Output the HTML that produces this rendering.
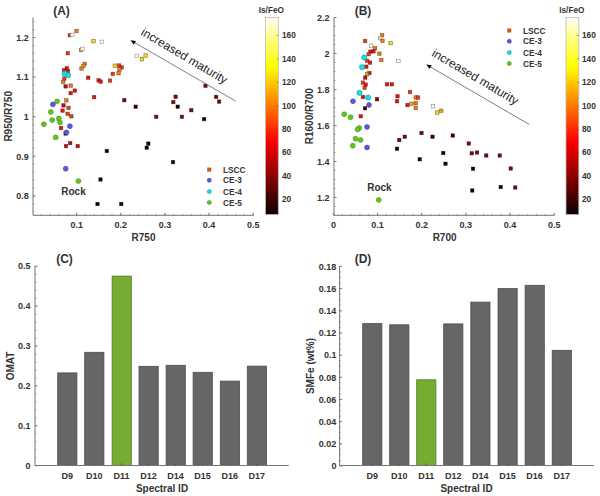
<!DOCTYPE html>
<html><head><meta charset="utf-8"><title>Figure</title>
<style>
html,body{margin:0;padding:0;background:#fff;}
body{width:600px;height:496px;overflow:hidden;font-family:"Liberation Sans",sans-serif;}
svg{display:block;font-family:"Liberation Sans",sans-serif;}
</style></head><body>
<svg width="600" height="496" viewBox="0 0 600 496">
<defs>
<linearGradient id="hot" x1="0" y1="1" x2="0" y2="0">
<stop offset="0" stop-color="#0b0000"/>
<stop offset="0.375" stop-color="#ff0000"/>
<stop offset="0.75" stop-color="#ffff00"/>
<stop offset="0.9" stop-color="#ffff88"/>
<stop offset="1" stop-color="#ffffff"/>
</linearGradient>
<filter id="soft" x="0" y="0" width="600" height="496" filterUnits="userSpaceOnUse"><feGaussianBlur stdDeviation="0.45"/></filter>
</defs>
<rect width="600" height="496" fill="#fff"/>
<g id="fig" filter="url(#soft)">
<path d="M33 17.5V215.3H253.5" fill="none" stroke="#747474" stroke-width="1.0"/>
<line x1="33" y1="211.74" x2="34.4" y2="211.74" stroke="#747474" stroke-width="0.7"/>
<line x1="33" y1="203.82" x2="34.4" y2="203.82" stroke="#747474" stroke-width="0.7"/>
<line x1="33" y1="195.90" x2="34.4" y2="195.90" stroke="#747474" stroke-width="0.7"/>
<line x1="33" y1="187.98" x2="34.4" y2="187.98" stroke="#747474" stroke-width="0.7"/>
<line x1="33" y1="180.06" x2="34.4" y2="180.06" stroke="#747474" stroke-width="0.7"/>
<line x1="33" y1="172.14" x2="34.4" y2="172.14" stroke="#747474" stroke-width="0.7"/>
<line x1="33" y1="164.22" x2="34.4" y2="164.22" stroke="#747474" stroke-width="0.7"/>
<line x1="33" y1="156.30" x2="34.4" y2="156.30" stroke="#747474" stroke-width="0.7"/>
<line x1="33" y1="148.38" x2="34.4" y2="148.38" stroke="#747474" stroke-width="0.7"/>
<line x1="33" y1="140.46" x2="34.4" y2="140.46" stroke="#747474" stroke-width="0.7"/>
<line x1="33" y1="132.54" x2="34.4" y2="132.54" stroke="#747474" stroke-width="0.7"/>
<line x1="33" y1="124.62" x2="34.4" y2="124.62" stroke="#747474" stroke-width="0.7"/>
<line x1="33" y1="116.70" x2="34.4" y2="116.70" stroke="#747474" stroke-width="0.7"/>
<line x1="33" y1="108.78" x2="34.4" y2="108.78" stroke="#747474" stroke-width="0.7"/>
<line x1="33" y1="100.86" x2="34.4" y2="100.86" stroke="#747474" stroke-width="0.7"/>
<line x1="33" y1="92.94" x2="34.4" y2="92.94" stroke="#747474" stroke-width="0.7"/>
<line x1="33" y1="85.02" x2="34.4" y2="85.02" stroke="#747474" stroke-width="0.7"/>
<line x1="33" y1="77.10" x2="34.4" y2="77.10" stroke="#747474" stroke-width="0.7"/>
<line x1="33" y1="69.18" x2="34.4" y2="69.18" stroke="#747474" stroke-width="0.7"/>
<line x1="33" y1="61.26" x2="34.4" y2="61.26" stroke="#747474" stroke-width="0.7"/>
<line x1="33" y1="53.34" x2="34.4" y2="53.34" stroke="#747474" stroke-width="0.7"/>
<line x1="33" y1="45.42" x2="34.4" y2="45.42" stroke="#747474" stroke-width="0.7"/>
<line x1="33" y1="37.50" x2="34.4" y2="37.50" stroke="#747474" stroke-width="0.7"/>
<line x1="33" y1="29.58" x2="34.4" y2="29.58" stroke="#747474" stroke-width="0.7"/>
<line x1="33" y1="21.66" x2="34.4" y2="21.66" stroke="#747474" stroke-width="0.7"/>
<line x1="33" y1="195.90" x2="35.6" y2="195.90" stroke="#747474" stroke-width="0.9"/>
<line x1="33" y1="156.30" x2="35.6" y2="156.30" stroke="#747474" stroke-width="0.9"/>
<line x1="33" y1="116.70" x2="35.6" y2="116.70" stroke="#747474" stroke-width="0.9"/>
<line x1="33" y1="77.10" x2="35.6" y2="77.10" stroke="#747474" stroke-width="0.9"/>
<line x1="33" y1="37.50" x2="35.6" y2="37.50" stroke="#747474" stroke-width="0.9"/>
<line x1="41.33" y1="215.3" x2="41.33" y2="213.9" stroke="#747474" stroke-width="0.7"/>
<line x1="50.16" y1="215.3" x2="50.16" y2="213.9" stroke="#747474" stroke-width="0.7"/>
<line x1="58.99" y1="215.3" x2="58.99" y2="213.9" stroke="#747474" stroke-width="0.7"/>
<line x1="67.82" y1="215.3" x2="67.82" y2="213.9" stroke="#747474" stroke-width="0.7"/>
<line x1="76.65" y1="215.3" x2="76.65" y2="213.9" stroke="#747474" stroke-width="0.7"/>
<line x1="85.48" y1="215.3" x2="85.48" y2="213.9" stroke="#747474" stroke-width="0.7"/>
<line x1="94.31" y1="215.3" x2="94.31" y2="213.9" stroke="#747474" stroke-width="0.7"/>
<line x1="103.14" y1="215.3" x2="103.14" y2="213.9" stroke="#747474" stroke-width="0.7"/>
<line x1="111.97" y1="215.3" x2="111.97" y2="213.9" stroke="#747474" stroke-width="0.7"/>
<line x1="120.80" y1="215.3" x2="120.80" y2="213.9" stroke="#747474" stroke-width="0.7"/>
<line x1="129.63" y1="215.3" x2="129.63" y2="213.9" stroke="#747474" stroke-width="0.7"/>
<line x1="138.46" y1="215.3" x2="138.46" y2="213.9" stroke="#747474" stroke-width="0.7"/>
<line x1="147.29" y1="215.3" x2="147.29" y2="213.9" stroke="#747474" stroke-width="0.7"/>
<line x1="156.12" y1="215.3" x2="156.12" y2="213.9" stroke="#747474" stroke-width="0.7"/>
<line x1="164.95" y1="215.3" x2="164.95" y2="213.9" stroke="#747474" stroke-width="0.7"/>
<line x1="173.78" y1="215.3" x2="173.78" y2="213.9" stroke="#747474" stroke-width="0.7"/>
<line x1="182.61" y1="215.3" x2="182.61" y2="213.9" stroke="#747474" stroke-width="0.7"/>
<line x1="191.44" y1="215.3" x2="191.44" y2="213.9" stroke="#747474" stroke-width="0.7"/>
<line x1="200.27" y1="215.3" x2="200.27" y2="213.9" stroke="#747474" stroke-width="0.7"/>
<line x1="209.10" y1="215.3" x2="209.10" y2="213.9" stroke="#747474" stroke-width="0.7"/>
<line x1="217.93" y1="215.3" x2="217.93" y2="213.9" stroke="#747474" stroke-width="0.7"/>
<line x1="226.76" y1="215.3" x2="226.76" y2="213.9" stroke="#747474" stroke-width="0.7"/>
<line x1="235.59" y1="215.3" x2="235.59" y2="213.9" stroke="#747474" stroke-width="0.7"/>
<line x1="244.42" y1="215.3" x2="244.42" y2="213.9" stroke="#747474" stroke-width="0.7"/>
<line x1="253.25" y1="215.3" x2="253.25" y2="213.9" stroke="#747474" stroke-width="0.7"/>
<line x1="76.65" y1="215.3" x2="76.65" y2="212.70000000000002" stroke="#747474" stroke-width="0.9"/>
<line x1="120.80" y1="215.3" x2="120.80" y2="212.70000000000002" stroke="#747474" stroke-width="0.9"/>
<line x1="164.95" y1="215.3" x2="164.95" y2="212.70000000000002" stroke="#747474" stroke-width="0.9"/>
<line x1="209.10" y1="215.3" x2="209.10" y2="212.70000000000002" stroke="#747474" stroke-width="0.9"/>
<line x1="253.25" y1="215.3" x2="253.25" y2="212.70000000000002" stroke="#747474" stroke-width="0.9"/>
<rect x="74.75" y="29.25" width="3.5" height="3.5" fill="#ee7d12" stroke="rgba(40,10,0,0.55)" stroke-width="0.6"/>
<rect x="68.05" y="33.45" width="3.5" height="3.5" fill="#ea3c10" stroke="rgba(40,10,0,0.55)" stroke-width="0.6"/>
<rect x="70.55" y="33.05" width="3.5" height="3.5" fill="#fffef0" stroke="#8a8a8a" stroke-width="0.6"/>
<rect x="91.75" y="39.45" width="3.5" height="3.5" fill="#eedc18" stroke="rgba(40,10,0,0.55)" stroke-width="0.6"/>
<rect x="100.05" y="40.05" width="3.5" height="3.5" fill="#fffef0" stroke="#8a8a8a" stroke-width="0.6"/>
<rect x="79.25" y="48.25" width="3.5" height="3.5" fill="#e8a814" stroke="rgba(40,10,0,0.55)" stroke-width="0.6"/>
<rect x="80.65" y="47.15" width="3.5" height="3.5" fill="#fffef0" stroke="#8a8a8a" stroke-width="0.6"/>
<rect x="66.05" y="51.45" width="3.5" height="3.5" fill="#ea3c10" stroke="rgba(40,10,0,0.55)" stroke-width="0.6"/>
<rect x="82.95" y="62.15" width="3.5" height="3.5" fill="#ee7d12" stroke="rgba(40,10,0,0.55)" stroke-width="0.6"/>
<rect x="81.65" y="64.25" width="3.5" height="3.5" fill="#e8a814" stroke="rgba(40,10,0,0.55)" stroke-width="0.6"/>
<rect x="79.75" y="66.75" width="3.5" height="3.5" fill="#ee7d12" stroke="rgba(40,10,0,0.55)" stroke-width="0.6"/>
<rect x="65.05" y="66.45" width="3.5" height="3.5" fill="#e3150f" stroke="rgba(40,10,0,0.55)" stroke-width="0.6"/>
<rect x="62.25" y="68.45" width="3.5" height="3.5" fill="#e3150f" stroke="rgba(40,10,0,0.55)" stroke-width="0.6"/>
<rect x="66.25" y="69.65" width="3.5" height="3.5" fill="#e3150f" stroke="rgba(40,10,0,0.55)" stroke-width="0.6"/>
<rect x="62.55" y="76.85" width="3.5" height="3.5" fill="#ea3c10" stroke="rgba(40,10,0,0.55)" stroke-width="0.6"/>
<rect x="61.35" y="80.15" width="3.5" height="3.5" fill="#ee7d12" stroke="rgba(40,10,0,0.55)" stroke-width="0.6"/>
<rect x="86.45" y="75.95" width="3.5" height="3.5" fill="#e3150f" stroke="rgba(40,10,0,0.55)" stroke-width="0.6"/>
<rect x="96.85" y="78.55" width="3.5" height="3.5" fill="#e3150f" stroke="rgba(40,10,0,0.55)" stroke-width="0.6"/>
<rect x="98.85" y="79.85" width="3.5" height="3.5" fill="#e3150f" stroke="rgba(40,10,0,0.55)" stroke-width="0.6"/>
<rect x="113.05" y="63.95" width="3.5" height="3.5" fill="#eedc18" stroke="rgba(40,10,0,0.55)" stroke-width="0.6"/>
<rect x="117.35" y="63.75" width="3.5" height="3.5" fill="#ea3c10" stroke="rgba(40,10,0,0.55)" stroke-width="0.6"/>
<rect x="119.95" y="65.65" width="3.5" height="3.5" fill="#ea3c10" stroke="rgba(40,10,0,0.55)" stroke-width="0.6"/>
<rect x="117.75" y="67.65" width="3.5" height="3.5" fill="#ee7d12" stroke="rgba(40,10,0,0.55)" stroke-width="0.6"/>
<rect x="116.85" y="71.45" width="3.5" height="3.5" fill="#ee7d12" stroke="rgba(40,10,0,0.55)" stroke-width="0.6"/>
<rect x="111.05" y="72.15" width="3.5" height="3.5" fill="#ea3c10" stroke="rgba(40,10,0,0.55)" stroke-width="0.6"/>
<rect x="108.25" y="78.85" width="3.5" height="3.5" fill="#ea3c10" stroke="rgba(40,10,0,0.55)" stroke-width="0.6"/>
<rect x="63.85" y="84.65" width="3.5" height="3.5" fill="#ba1015" stroke="rgba(40,10,0,0.55)" stroke-width="0.6"/>
<rect x="68.95" y="83.85" width="3.5" height="3.5" fill="#ee7d12" stroke="rgba(40,10,0,0.55)" stroke-width="0.6"/>
<rect x="73.05" y="88.85" width="3.5" height="3.5" fill="#e3150f" stroke="rgba(40,10,0,0.55)" stroke-width="0.6"/>
<rect x="68.95" y="91.35" width="3.5" height="3.5" fill="#e3150f" stroke="rgba(40,10,0,0.55)" stroke-width="0.6"/>
<rect x="92.35" y="95.35" width="3.5" height="3.5" fill="#e3150f" stroke="rgba(40,10,0,0.55)" stroke-width="0.6"/>
<rect x="122.55" y="98.45" width="3.5" height="3.5" fill="#6e0a0c" stroke="rgba(40,10,0,0.55)" stroke-width="0.6"/>
<rect x="64.55" y="98.65" width="3.5" height="3.5" fill="#ee7d12" stroke="rgba(40,10,0,0.55)" stroke-width="0.6"/>
<rect x="61.75" y="103.65" width="3.5" height="3.5" fill="#ba1015" stroke="rgba(40,10,0,0.55)" stroke-width="0.6"/>
<rect x="66.75" y="106.15" width="3.5" height="3.5" fill="#ea3c10" stroke="rgba(40,10,0,0.55)" stroke-width="0.6"/>
<rect x="60.85" y="108.85" width="3.5" height="3.5" fill="#e3150f" stroke="rgba(40,10,0,0.55)" stroke-width="0.6"/>
<rect x="65.85" y="112.05" width="3.5" height="3.5" fill="#ea3c10" stroke="rgba(40,10,0,0.55)" stroke-width="0.6"/>
<rect x="69.55" y="114.55" width="3.5" height="3.5" fill="#ea3c10" stroke="rgba(40,10,0,0.55)" stroke-width="0.6"/>
<rect x="59.25" y="126.25" width="3.5" height="3.5" fill="#e3150f" stroke="rgba(40,10,0,0.55)" stroke-width="0.6"/>
<rect x="63.85" y="131.75" width="3.5" height="3.5" fill="#3a0505" stroke="rgba(40,10,0,0.55)" stroke-width="0.6"/>
<rect x="68.45" y="141.35" width="3.5" height="3.5" fill="#ba1015" stroke="rgba(40,10,0,0.55)" stroke-width="0.6"/>
<rect x="64.25" y="144.35" width="3.5" height="3.5" fill="#ba1015" stroke="rgba(40,10,0,0.55)" stroke-width="0.6"/>
<rect x="75.95" y="144.35" width="3.5" height="3.5" fill="#ba1015" stroke="rgba(40,10,0,0.55)" stroke-width="0.6"/>
<rect x="105.05" y="149.25" width="3.5" height="3.5" fill="#120404" stroke="rgba(40,10,0,0.55)" stroke-width="0.6"/>
<rect x="134.95" y="54.25" width="3.5" height="3.5" fill="#fffef0" stroke="#8a8a8a" stroke-width="0.6"/>
<rect x="143.85" y="53.75" width="3.5" height="3.5" fill="#eedc18" stroke="rgba(40,10,0,0.55)" stroke-width="0.6"/>
<rect x="140.15" y="57.55" width="3.5" height="3.5" fill="#eedc18" stroke="rgba(40,10,0,0.55)" stroke-width="0.6"/>
<rect x="203.75" y="84.05" width="3.5" height="3.5" fill="#6e0a0c" stroke="rgba(40,10,0,0.55)" stroke-width="0.6"/>
<rect x="133.95" y="104.95" width="3.5" height="3.5" fill="#3a0505" stroke="rgba(40,10,0,0.55)" stroke-width="0.6"/>
<rect x="154.45" y="115.05" width="3.5" height="3.5" fill="#6e0a0c" stroke="rgba(40,10,0,0.55)" stroke-width="0.6"/>
<rect x="173.85" y="94.95" width="3.5" height="3.5" fill="#6e0a0c" stroke="rgba(40,10,0,0.55)" stroke-width="0.6"/>
<rect x="171.55" y="100.35" width="3.5" height="3.5" fill="#6e0a0c" stroke="rgba(40,10,0,0.55)" stroke-width="0.6"/>
<rect x="175.95" y="104.95" width="3.5" height="3.5" fill="#120404" stroke="rgba(40,10,0,0.55)" stroke-width="0.6"/>
<rect x="180.15" y="115.05" width="3.5" height="3.5" fill="#6e0a0c" stroke="rgba(40,10,0,0.55)" stroke-width="0.6"/>
<rect x="189.55" y="108.45" width="3.5" height="3.5" fill="#6e0a0c" stroke="rgba(40,10,0,0.55)" stroke-width="0.6"/>
<rect x="202.35" y="117.35" width="3.5" height="3.5" fill="#120404" stroke="rgba(40,10,0,0.55)" stroke-width="0.6"/>
<rect x="214.35" y="95.15" width="3.5" height="3.5" fill="#6e0a0c" stroke="rgba(40,10,0,0.55)" stroke-width="0.6"/>
<rect x="217.35" y="99.85" width="3.5" height="3.5" fill="#6e0a0c" stroke="rgba(40,10,0,0.55)" stroke-width="0.6"/>
<rect x="146.55" y="141.85" width="3.5" height="3.5" fill="#120404" stroke="rgba(40,10,0,0.55)" stroke-width="0.6"/>
<rect x="144.95" y="145.95" width="3.5" height="3.5" fill="#120404" stroke="rgba(40,10,0,0.55)" stroke-width="0.6"/>
<rect x="171.25" y="160.35" width="3.5" height="3.5" fill="#120404" stroke="rgba(40,10,0,0.55)" stroke-width="0.6"/>
<rect x="98.75" y="177.75" width="3.5" height="3.5" fill="#120404" stroke="rgba(40,10,0,0.55)" stroke-width="0.6"/>
<rect x="95.75" y="202.25" width="3.5" height="3.5" fill="#120404" stroke="rgba(40,10,0,0.55)" stroke-width="0.6"/>
<rect x="119.50" y="202.25" width="3.5" height="3.5" fill="#120404" stroke="rgba(40,10,0,0.55)" stroke-width="0.6"/>
<circle cx="64.60" cy="73.60" r="2.6" fill="#19dfe8" stroke="#0a9aa8" stroke-width="0.6"/>
<circle cx="68.10" cy="75.20" r="2.6" fill="#19dfe8" stroke="#0a9aa8" stroke-width="0.6"/>
<circle cx="57.10" cy="101.40" r="2.45" fill="#62c81e" stroke="#3c8a10" stroke-width="0.6"/>
<circle cx="50.80" cy="112.00" r="2.45" fill="#62c81e" stroke="#3c8a10" stroke-width="0.6"/>
<circle cx="58.80" cy="118.50" r="2.45" fill="#62c81e" stroke="#3c8a10" stroke-width="0.6"/>
<circle cx="52.20" cy="120.10" r="2.45" fill="#62c81e" stroke="#3c8a10" stroke-width="0.6"/>
<circle cx="60.00" cy="122.60" r="2.45" fill="#62c81e" stroke="#3c8a10" stroke-width="0.6"/>
<circle cx="43.90" cy="124.30" r="2.45" fill="#62c81e" stroke="#3c8a10" stroke-width="0.6"/>
<circle cx="55.70" cy="137.40" r="2.45" fill="#62c81e" stroke="#3c8a10" stroke-width="0.6"/>
<circle cx="78.40" cy="181.10" r="2.45" fill="#62c81e" stroke="#3c8a10" stroke-width="0.6"/>
<circle cx="52.90" cy="104.40" r="2.45" fill="#5a5adf" stroke="#3a3aa0" stroke-width="0.6"/>
<circle cx="69.90" cy="126.20" r="2.45" fill="#5a5adf" stroke="#3a3aa0" stroke-width="0.6"/>
<circle cx="66.50" cy="132.40" r="2.45" fill="#5a5adf" stroke="#3a3aa0" stroke-width="0.6"/>
<circle cx="65.70" cy="168.70" r="2.45" fill="#5a5adf" stroke="#3a3aa0" stroke-width="0.6"/>
<path d="M334 17.5V215.3H554.3" fill="none" stroke="#747474" stroke-width="1.0"/>
<line x1="334" y1="215.50" x2="335.4" y2="215.50" stroke="#747474" stroke-width="0.7"/>
<line x1="334" y1="206.50" x2="335.4" y2="206.50" stroke="#747474" stroke-width="0.7"/>
<line x1="334" y1="197.50" x2="335.4" y2="197.50" stroke="#747474" stroke-width="0.7"/>
<line x1="334" y1="188.50" x2="335.4" y2="188.50" stroke="#747474" stroke-width="0.7"/>
<line x1="334" y1="179.50" x2="335.4" y2="179.50" stroke="#747474" stroke-width="0.7"/>
<line x1="334" y1="170.50" x2="335.4" y2="170.50" stroke="#747474" stroke-width="0.7"/>
<line x1="334" y1="161.50" x2="335.4" y2="161.50" stroke="#747474" stroke-width="0.7"/>
<line x1="334" y1="152.50" x2="335.4" y2="152.50" stroke="#747474" stroke-width="0.7"/>
<line x1="334" y1="143.50" x2="335.4" y2="143.50" stroke="#747474" stroke-width="0.7"/>
<line x1="334" y1="134.50" x2="335.4" y2="134.50" stroke="#747474" stroke-width="0.7"/>
<line x1="334" y1="125.50" x2="335.4" y2="125.50" stroke="#747474" stroke-width="0.7"/>
<line x1="334" y1="116.50" x2="335.4" y2="116.50" stroke="#747474" stroke-width="0.7"/>
<line x1="334" y1="107.50" x2="335.4" y2="107.50" stroke="#747474" stroke-width="0.7"/>
<line x1="334" y1="98.50" x2="335.4" y2="98.50" stroke="#747474" stroke-width="0.7"/>
<line x1="334" y1="89.50" x2="335.4" y2="89.50" stroke="#747474" stroke-width="0.7"/>
<line x1="334" y1="80.50" x2="335.4" y2="80.50" stroke="#747474" stroke-width="0.7"/>
<line x1="334" y1="71.50" x2="335.4" y2="71.50" stroke="#747474" stroke-width="0.7"/>
<line x1="334" y1="62.50" x2="335.4" y2="62.50" stroke="#747474" stroke-width="0.7"/>
<line x1="334" y1="53.50" x2="335.4" y2="53.50" stroke="#747474" stroke-width="0.7"/>
<line x1="334" y1="44.50" x2="335.4" y2="44.50" stroke="#747474" stroke-width="0.7"/>
<line x1="334" y1="35.50" x2="335.4" y2="35.50" stroke="#747474" stroke-width="0.7"/>
<line x1="334" y1="26.50" x2="335.4" y2="26.50" stroke="#747474" stroke-width="0.7"/>
<line x1="334" y1="17.50" x2="335.4" y2="17.50" stroke="#747474" stroke-width="0.7"/>
<line x1="334" y1="197.50" x2="336.6" y2="197.50" stroke="#747474" stroke-width="0.9"/>
<line x1="334" y1="161.50" x2="336.6" y2="161.50" stroke="#747474" stroke-width="0.9"/>
<line x1="334" y1="125.50" x2="336.6" y2="125.50" stroke="#747474" stroke-width="0.9"/>
<line x1="334" y1="89.50" x2="336.6" y2="89.50" stroke="#747474" stroke-width="0.9"/>
<line x1="334" y1="53.50" x2="336.6" y2="53.50" stroke="#747474" stroke-width="0.9"/>
<line x1="334" y1="17.50" x2="336.6" y2="17.50" stroke="#747474" stroke-width="0.9"/>
<line x1="333.40" y1="215.3" x2="333.40" y2="213.9" stroke="#747474" stroke-width="0.7"/>
<line x1="342.23" y1="215.3" x2="342.23" y2="213.9" stroke="#747474" stroke-width="0.7"/>
<line x1="351.06" y1="215.3" x2="351.06" y2="213.9" stroke="#747474" stroke-width="0.7"/>
<line x1="359.90" y1="215.3" x2="359.90" y2="213.9" stroke="#747474" stroke-width="0.7"/>
<line x1="368.73" y1="215.3" x2="368.73" y2="213.9" stroke="#747474" stroke-width="0.7"/>
<line x1="377.56" y1="215.3" x2="377.56" y2="213.9" stroke="#747474" stroke-width="0.7"/>
<line x1="386.39" y1="215.3" x2="386.39" y2="213.9" stroke="#747474" stroke-width="0.7"/>
<line x1="395.22" y1="215.3" x2="395.22" y2="213.9" stroke="#747474" stroke-width="0.7"/>
<line x1="404.06" y1="215.3" x2="404.06" y2="213.9" stroke="#747474" stroke-width="0.7"/>
<line x1="412.89" y1="215.3" x2="412.89" y2="213.9" stroke="#747474" stroke-width="0.7"/>
<line x1="421.72" y1="215.3" x2="421.72" y2="213.9" stroke="#747474" stroke-width="0.7"/>
<line x1="430.55" y1="215.3" x2="430.55" y2="213.9" stroke="#747474" stroke-width="0.7"/>
<line x1="439.38" y1="215.3" x2="439.38" y2="213.9" stroke="#747474" stroke-width="0.7"/>
<line x1="448.22" y1="215.3" x2="448.22" y2="213.9" stroke="#747474" stroke-width="0.7"/>
<line x1="457.05" y1="215.3" x2="457.05" y2="213.9" stroke="#747474" stroke-width="0.7"/>
<line x1="465.88" y1="215.3" x2="465.88" y2="213.9" stroke="#747474" stroke-width="0.7"/>
<line x1="474.71" y1="215.3" x2="474.71" y2="213.9" stroke="#747474" stroke-width="0.7"/>
<line x1="483.54" y1="215.3" x2="483.54" y2="213.9" stroke="#747474" stroke-width="0.7"/>
<line x1="492.38" y1="215.3" x2="492.38" y2="213.9" stroke="#747474" stroke-width="0.7"/>
<line x1="501.21" y1="215.3" x2="501.21" y2="213.9" stroke="#747474" stroke-width="0.7"/>
<line x1="510.04" y1="215.3" x2="510.04" y2="213.9" stroke="#747474" stroke-width="0.7"/>
<line x1="518.87" y1="215.3" x2="518.87" y2="213.9" stroke="#747474" stroke-width="0.7"/>
<line x1="527.70" y1="215.3" x2="527.70" y2="213.9" stroke="#747474" stroke-width="0.7"/>
<line x1="536.54" y1="215.3" x2="536.54" y2="213.9" stroke="#747474" stroke-width="0.7"/>
<line x1="545.37" y1="215.3" x2="545.37" y2="213.9" stroke="#747474" stroke-width="0.7"/>
<line x1="554.20" y1="215.3" x2="554.20" y2="213.9" stroke="#747474" stroke-width="0.7"/>
<line x1="333.40" y1="215.3" x2="333.40" y2="212.70000000000002" stroke="#747474" stroke-width="0.9"/>
<line x1="377.56" y1="215.3" x2="377.56" y2="212.70000000000002" stroke="#747474" stroke-width="0.9"/>
<line x1="421.72" y1="215.3" x2="421.72" y2="212.70000000000002" stroke="#747474" stroke-width="0.9"/>
<line x1="465.88" y1="215.3" x2="465.88" y2="212.70000000000002" stroke="#747474" stroke-width="0.9"/>
<line x1="510.04" y1="215.3" x2="510.04" y2="212.70000000000002" stroke="#747474" stroke-width="0.9"/>
<line x1="554.20" y1="215.3" x2="554.20" y2="212.70000000000002" stroke="#747474" stroke-width="0.9"/>
<rect x="363.35" y="39.25" width="3.5" height="3.5" fill="#ea3c10" stroke="rgba(40,10,0,0.55)" stroke-width="0.6"/>
<rect x="380.35" y="33.45" width="3.5" height="3.5" fill="#ee7d12" stroke="rgba(40,10,0,0.55)" stroke-width="0.6"/>
<rect x="378.55" y="36.45" width="3.5" height="3.5" fill="#e8e0a0" stroke="#8a8a8a" stroke-width="0.6"/>
<rect x="380.75" y="39.15" width="3.5" height="3.5" fill="#ee7d12" stroke="rgba(40,10,0,0.55)" stroke-width="0.6"/>
<rect x="388.85" y="41.35" width="3.5" height="3.5" fill="#eedc18" stroke="rgba(40,10,0,0.55)" stroke-width="0.6"/>
<rect x="369.35" y="43.95" width="3.5" height="3.5" fill="#fffef0" stroke="#8a8a8a" stroke-width="0.6"/>
<rect x="373.25" y="46.55" width="3.5" height="3.5" fill="#ee7d12" stroke="rgba(40,10,0,0.55)" stroke-width="0.6"/>
<rect x="371.75" y="49.55" width="3.5" height="3.5" fill="#e3150f" stroke="rgba(40,10,0,0.55)" stroke-width="0.6"/>
<rect x="368.65" y="49.95" width="3.5" height="3.5" fill="#e3150f" stroke="rgba(40,10,0,0.55)" stroke-width="0.6"/>
<rect x="366.85" y="52.45" width="3.5" height="3.5" fill="#ea3c10" stroke="rgba(40,10,0,0.55)" stroke-width="0.6"/>
<rect x="377.65" y="51.95" width="3.5" height="3.5" fill="#ee7d12" stroke="rgba(40,10,0,0.55)" stroke-width="0.6"/>
<rect x="379.55" y="58.25" width="3.5" height="3.5" fill="#ee7d12" stroke="rgba(40,10,0,0.55)" stroke-width="0.6"/>
<rect x="365.25" y="58.95" width="3.5" height="3.5" fill="#ea3c10" stroke="rgba(40,10,0,0.55)" stroke-width="0.6"/>
<rect x="368.25" y="60.85" width="3.5" height="3.5" fill="#e3150f" stroke="rgba(40,10,0,0.55)" stroke-width="0.6"/>
<rect x="396.65" y="59.25" width="3.5" height="3.5" fill="#fffef0" stroke="#8a8a8a" stroke-width="0.6"/>
<rect x="364.55" y="64.95" width="3.5" height="3.5" fill="#e3150f" stroke="rgba(40,10,0,0.55)" stroke-width="0.6"/>
<rect x="367.65" y="71.35" width="3.5" height="3.5" fill="#e3150f" stroke="rgba(40,10,0,0.55)" stroke-width="0.6"/>
<rect x="365.25" y="72.45" width="3.5" height="3.5" fill="#c8b820" stroke="rgba(40,10,0,0.55)" stroke-width="0.6"/>
<rect x="363.45" y="75.85" width="3.5" height="3.5" fill="#ba1015" stroke="rgba(40,10,0,0.55)" stroke-width="0.6"/>
<rect x="361.15" y="80.85" width="3.5" height="3.5" fill="#ea3c10" stroke="rgba(40,10,0,0.55)" stroke-width="0.6"/>
<rect x="363.95" y="82.85" width="3.5" height="3.5" fill="#e3150f" stroke="rgba(40,10,0,0.55)" stroke-width="0.6"/>
<rect x="362.85" y="86.05" width="3.5" height="3.5" fill="#ea3c10" stroke="rgba(40,10,0,0.55)" stroke-width="0.6"/>
<rect x="385.25" y="82.55" width="3.5" height="3.5" fill="#e3150f" stroke="rgba(40,10,0,0.55)" stroke-width="0.6"/>
<rect x="390.05" y="82.55" width="3.5" height="3.5" fill="#e3150f" stroke="rgba(40,10,0,0.55)" stroke-width="0.6"/>
<rect x="361.25" y="95.25" width="3.5" height="3.5" fill="#e3150f" stroke="rgba(40,10,0,0.55)" stroke-width="0.6"/>
<rect x="375.25" y="97.50" width="3.5" height="3.5" fill="#6e0a0c" stroke="rgba(40,10,0,0.55)" stroke-width="0.6"/>
<rect x="363.25" y="106.50" width="3.5" height="3.5" fill="#3a0505" stroke="rgba(40,10,0,0.55)" stroke-width="0.6"/>
<rect x="359.00" y="114.50" width="3.5" height="3.5" fill="#e3150f" stroke="rgba(40,10,0,0.55)" stroke-width="0.6"/>
<rect x="395.75" y="94.50" width="3.5" height="3.5" fill="#e3150f" stroke="rgba(40,10,0,0.55)" stroke-width="0.6"/>
<rect x="395.25" y="99.50" width="3.5" height="3.5" fill="#e3150f" stroke="rgba(40,10,0,0.55)" stroke-width="0.6"/>
<rect x="408.25" y="90.25" width="3.5" height="3.5" fill="#ea3c10" stroke="rgba(40,10,0,0.55)" stroke-width="0.6"/>
<rect x="414.00" y="95.75" width="3.5" height="3.5" fill="#ee7d12" stroke="rgba(40,10,0,0.55)" stroke-width="0.6"/>
<rect x="416.25" y="95.75" width="3.5" height="3.5" fill="#ea3c10" stroke="rgba(40,10,0,0.55)" stroke-width="0.6"/>
<rect x="405.75" y="103.25" width="3.5" height="3.5" fill="#e3150f" stroke="rgba(40,10,0,0.55)" stroke-width="0.6"/>
<rect x="409.75" y="102.00" width="3.5" height="3.5" fill="#e8a814" stroke="rgba(40,10,0,0.55)" stroke-width="0.6"/>
<rect x="414.00" y="101.50" width="3.5" height="3.5" fill="#ee7d12" stroke="rgba(40,10,0,0.55)" stroke-width="0.6"/>
<rect x="414.00" y="106.25" width="3.5" height="3.5" fill="#ee7d12" stroke="rgba(40,10,0,0.55)" stroke-width="0.6"/>
<rect x="431.25" y="104.50" width="3.5" height="3.5" fill="#fffef0" stroke="#8a8a8a" stroke-width="0.6"/>
<rect x="435.50" y="110.75" width="3.5" height="3.5" fill="#eedc18" stroke="rgba(40,10,0,0.55)" stroke-width="0.6"/>
<rect x="439.50" y="109.00" width="3.5" height="3.5" fill="#e8a814" stroke="rgba(40,10,0,0.55)" stroke-width="0.6"/>
<rect x="397.50" y="138.25" width="3.5" height="3.5" fill="#6e0a0c" stroke="rgba(40,10,0,0.55)" stroke-width="0.6"/>
<rect x="403.00" y="135.00" width="3.5" height="3.5" fill="#6e0a0c" stroke="rgba(40,10,0,0.55)" stroke-width="0.6"/>
<rect x="395.25" y="147.00" width="3.5" height="3.5" fill="#120404" stroke="rgba(40,10,0,0.55)" stroke-width="0.6"/>
<rect x="419.75" y="131.25" width="3.5" height="3.5" fill="#6e0a0c" stroke="rgba(40,10,0,0.55)" stroke-width="0.6"/>
<rect x="430.75" y="135.00" width="3.5" height="3.5" fill="#3a0505" stroke="rgba(40,10,0,0.55)" stroke-width="0.6"/>
<rect x="418.00" y="157.50" width="3.5" height="3.5" fill="#120404" stroke="rgba(40,10,0,0.55)" stroke-width="0.6"/>
<rect x="441.50" y="151.25" width="3.5" height="3.5" fill="#120404" stroke="rgba(40,10,0,0.55)" stroke-width="0.6"/>
<rect x="443.75" y="162.00" width="3.5" height="3.5" fill="#120404" stroke="rgba(40,10,0,0.55)" stroke-width="0.6"/>
<rect x="451.00" y="133.75" width="3.5" height="3.5" fill="#3a0505" stroke="rgba(40,10,0,0.55)" stroke-width="0.6"/>
<rect x="467.00" y="141.75" width="3.5" height="3.5" fill="#6e0a0c" stroke="rgba(40,10,0,0.55)" stroke-width="0.6"/>
<rect x="470.00" y="151.50" width="3.5" height="3.5" fill="#6e0a0c" stroke="rgba(40,10,0,0.55)" stroke-width="0.6"/>
<rect x="475.25" y="150.75" width="3.5" height="3.5" fill="#6e0a0c" stroke="rgba(40,10,0,0.55)" stroke-width="0.6"/>
<rect x="484.50" y="153.75" width="3.5" height="3.5" fill="#6e0a0c" stroke="rgba(40,10,0,0.55)" stroke-width="0.6"/>
<rect x="498.00" y="153.75" width="3.5" height="3.5" fill="#6e0a0c" stroke="rgba(40,10,0,0.55)" stroke-width="0.6"/>
<rect x="471.25" y="167.00" width="3.5" height="3.5" fill="#120404" stroke="rgba(40,10,0,0.55)" stroke-width="0.6"/>
<rect x="509.00" y="166.75" width="3.5" height="3.5" fill="#6e0a0c" stroke="rgba(40,10,0,0.55)" stroke-width="0.6"/>
<rect x="470.50" y="188.75" width="3.5" height="3.5" fill="#120404" stroke="rgba(40,10,0,0.55)" stroke-width="0.6"/>
<rect x="499.00" y="185.25" width="3.5" height="3.5" fill="#120404" stroke="rgba(40,10,0,0.55)" stroke-width="0.6"/>
<rect x="513.50" y="185.75" width="3.5" height="3.5" fill="#6e0a0c" stroke="rgba(40,10,0,0.55)" stroke-width="0.6"/>
<circle cx="364.20" cy="57.40" r="2.6" fill="#19dfe8" stroke="#0a9aa8" stroke-width="0.6"/>
<circle cx="362.10" cy="67.20" r="2.6" fill="#19dfe8" stroke="#0a9aa8" stroke-width="0.6"/>
<circle cx="359.50" cy="92.80" r="2.6" fill="#19dfe8" stroke="#0a9aa8" stroke-width="0.6"/>
<circle cx="368.20" cy="97.50" r="2.6" fill="#19dfe8" stroke="#0a9aa8" stroke-width="0.6"/>
<circle cx="353.00" cy="101.25" r="2.45" fill="#5a5adf" stroke="#3a3aa0" stroke-width="0.6"/>
<circle cx="369.00" cy="105.00" r="2.45" fill="#5a5adf" stroke="#3a3aa0" stroke-width="0.6"/>
<circle cx="367.00" cy="127.00" r="2.45" fill="#5a5adf" stroke="#3a3aa0" stroke-width="0.6"/>
<circle cx="367.00" cy="147.50" r="2.45" fill="#5a5adf" stroke="#3a3aa0" stroke-width="0.6"/>
<circle cx="344.25" cy="114.25" r="2.45" fill="#62c81e" stroke="#3c8a10" stroke-width="0.6"/>
<circle cx="350.50" cy="117.25" r="2.45" fill="#62c81e" stroke="#3c8a10" stroke-width="0.6"/>
<circle cx="359.25" cy="128.00" r="2.45" fill="#62c81e" stroke="#3c8a10" stroke-width="0.6"/>
<circle cx="357.50" cy="129.50" r="2.45" fill="#62c81e" stroke="#3c8a10" stroke-width="0.6"/>
<circle cx="355.50" cy="138.75" r="2.45" fill="#62c81e" stroke="#3c8a10" stroke-width="0.6"/>
<circle cx="360.50" cy="140.00" r="2.45" fill="#62c81e" stroke="#3c8a10" stroke-width="0.6"/>
<circle cx="352.75" cy="145.75" r="2.45" fill="#62c81e" stroke="#3c8a10" stroke-width="0.6"/>
<circle cx="378.75" cy="200.00" r="2.45" fill="#62c81e" stroke="#3c8a10" stroke-width="0.6"/>
<rect x="207.60000000000002" y="167.9" width="3.4" height="3.4" fill="#ec5a12" stroke="rgba(60,20,0,.5)" stroke-width="0.6"/>
<circle cx="209.30" cy="180.30" r="2.0" fill="#5a5adf" stroke="#3a3aa0" stroke-width="0.6"/>
<circle cx="209.30" cy="191.50" r="2.0" fill="#19dfe8" stroke="#0a9aa8" stroke-width="0.6"/>
<circle cx="209.30" cy="202.50" r="2.0" fill="#62c81e" stroke="#3c8a10" stroke-width="0.6"/>
<rect x="507.6" y="28.8" width="3.4" height="3.4" fill="#ec5a12" stroke="rgba(60,20,0,.5)" stroke-width="0.6"/>
<circle cx="509.30" cy="41.30" r="2.0" fill="#5a5adf" stroke="#3a3aa0" stroke-width="0.6"/>
<circle cx="509.30" cy="52.50" r="2.0" fill="#19dfe8" stroke="#0a9aa8" stroke-width="0.6"/>
<circle cx="509.30" cy="63.50" r="2.0" fill="#62c81e" stroke="#3c8a10" stroke-width="0.6"/>
<line x1="133.00" y1="41.70" x2="235.8" y2="101.2" stroke="#686868" stroke-width="0.85"/>
<polygon points="130.40,40.20 133.80,44.71 136.00,40.90" fill="#111"/>
<line x1="428.79" y1="66.01" x2="529.3" y2="124.5" stroke="#686868" stroke-width="0.85"/>
<polygon points="426.20,64.50 429.59,69.02 431.80,65.21" fill="#111"/>
<rect x="265.5" y="17.5" width="12.8" height="197.0" fill="url(#hot)" stroke="#b8b8b8" stroke-width="0.8"/>
<line x1="276.7" y1="35.50" x2="278.3" y2="35.50" stroke="#555" stroke-width="0.6"/>
<line x1="276.7" y1="58.92" x2="278.3" y2="58.92" stroke="#555" stroke-width="0.6"/>
<line x1="276.7" y1="82.34" x2="278.3" y2="82.34" stroke="#555" stroke-width="0.6"/>
<line x1="276.7" y1="105.76" x2="278.3" y2="105.76" stroke="#555" stroke-width="0.6"/>
<line x1="276.7" y1="129.18" x2="278.3" y2="129.18" stroke="#555" stroke-width="0.6"/>
<line x1="276.7" y1="152.60" x2="278.3" y2="152.60" stroke="#555" stroke-width="0.6"/>
<line x1="276.7" y1="176.02" x2="278.3" y2="176.02" stroke="#555" stroke-width="0.6"/>
<line x1="276.7" y1="199.44" x2="278.3" y2="199.44" stroke="#555" stroke-width="0.6"/>
<rect x="566" y="17.5" width="12.8" height="197.0" fill="url(#hot)" stroke="#b8b8b8" stroke-width="0.8"/>
<line x1="577.1999999999999" y1="35.50" x2="578.8" y2="35.50" stroke="#555" stroke-width="0.6"/>
<line x1="577.1999999999999" y1="58.92" x2="578.8" y2="58.92" stroke="#555" stroke-width="0.6"/>
<line x1="577.1999999999999" y1="82.34" x2="578.8" y2="82.34" stroke="#555" stroke-width="0.6"/>
<line x1="577.1999999999999" y1="105.76" x2="578.8" y2="105.76" stroke="#555" stroke-width="0.6"/>
<line x1="577.1999999999999" y1="129.18" x2="578.8" y2="129.18" stroke="#555" stroke-width="0.6"/>
<line x1="577.1999999999999" y1="152.60" x2="578.8" y2="152.60" stroke="#555" stroke-width="0.6"/>
<line x1="577.1999999999999" y1="176.02" x2="578.8" y2="176.02" stroke="#555" stroke-width="0.6"/>
<line x1="577.1999999999999" y1="199.44" x2="578.8" y2="199.44" stroke="#555" stroke-width="0.6"/>
<rect x="57.70" y="372.90" width="19.20" height="92.60" fill="#666666" stroke="#4c4c4c" stroke-width="0.8"/>
<rect x="84.70" y="352.30" width="19.20" height="113.20" fill="#666666" stroke="#4c4c4c" stroke-width="0.8"/>
<rect x="112.10" y="276.10" width="19.20" height="189.40" fill="#74ac30" stroke="#4e7c1e" stroke-width="0.8"/>
<rect x="139.00" y="366.30" width="19.20" height="99.20" fill="#666666" stroke="#4c4c4c" stroke-width="0.8"/>
<rect x="166.10" y="365.30" width="19.20" height="100.20" fill="#666666" stroke="#4c4c4c" stroke-width="0.8"/>
<rect x="193.10" y="372.30" width="19.20" height="93.20" fill="#666666" stroke="#4c4c4c" stroke-width="0.8"/>
<rect x="220.30" y="381.10" width="19.20" height="84.40" fill="#666666" stroke="#4c4c4c" stroke-width="0.8"/>
<rect x="247.30" y="366.10" width="19.20" height="99.40" fill="#666666" stroke="#4c4c4c" stroke-width="0.8"/>
<path d="M35 266V465.5H288.8" fill="none" stroke="#747474" stroke-width="1.0"/>
<line x1="35" y1="465.70" x2="36.4" y2="465.70" stroke="#747474" stroke-width="0.7"/>
<line x1="35" y1="457.72" x2="36.4" y2="457.72" stroke="#747474" stroke-width="0.7"/>
<line x1="35" y1="449.74" x2="36.4" y2="449.74" stroke="#747474" stroke-width="0.7"/>
<line x1="35" y1="441.76" x2="36.4" y2="441.76" stroke="#747474" stroke-width="0.7"/>
<line x1="35" y1="433.78" x2="36.4" y2="433.78" stroke="#747474" stroke-width="0.7"/>
<line x1="35" y1="425.80" x2="36.4" y2="425.80" stroke="#747474" stroke-width="0.7"/>
<line x1="35" y1="417.82" x2="36.4" y2="417.82" stroke="#747474" stroke-width="0.7"/>
<line x1="35" y1="409.84" x2="36.4" y2="409.84" stroke="#747474" stroke-width="0.7"/>
<line x1="35" y1="401.86" x2="36.4" y2="401.86" stroke="#747474" stroke-width="0.7"/>
<line x1="35" y1="393.88" x2="36.4" y2="393.88" stroke="#747474" stroke-width="0.7"/>
<line x1="35" y1="385.90" x2="36.4" y2="385.90" stroke="#747474" stroke-width="0.7"/>
<line x1="35" y1="377.92" x2="36.4" y2="377.92" stroke="#747474" stroke-width="0.7"/>
<line x1="35" y1="369.94" x2="36.4" y2="369.94" stroke="#747474" stroke-width="0.7"/>
<line x1="35" y1="361.96" x2="36.4" y2="361.96" stroke="#747474" stroke-width="0.7"/>
<line x1="35" y1="353.98" x2="36.4" y2="353.98" stroke="#747474" stroke-width="0.7"/>
<line x1="35" y1="346.00" x2="36.4" y2="346.00" stroke="#747474" stroke-width="0.7"/>
<line x1="35" y1="338.02" x2="36.4" y2="338.02" stroke="#747474" stroke-width="0.7"/>
<line x1="35" y1="330.04" x2="36.4" y2="330.04" stroke="#747474" stroke-width="0.7"/>
<line x1="35" y1="322.06" x2="36.4" y2="322.06" stroke="#747474" stroke-width="0.7"/>
<line x1="35" y1="314.08" x2="36.4" y2="314.08" stroke="#747474" stroke-width="0.7"/>
<line x1="35" y1="306.10" x2="36.4" y2="306.10" stroke="#747474" stroke-width="0.7"/>
<line x1="35" y1="298.12" x2="36.4" y2="298.12" stroke="#747474" stroke-width="0.7"/>
<line x1="35" y1="290.14" x2="36.4" y2="290.14" stroke="#747474" stroke-width="0.7"/>
<line x1="35" y1="282.16" x2="36.4" y2="282.16" stroke="#747474" stroke-width="0.7"/>
<line x1="35" y1="274.18" x2="36.4" y2="274.18" stroke="#747474" stroke-width="0.7"/>
<line x1="35" y1="266.20" x2="36.4" y2="266.20" stroke="#747474" stroke-width="0.7"/>
<line x1="35" y1="465.70" x2="37.6" y2="465.70" stroke="#747474" stroke-width="0.9"/>
<line x1="35" y1="425.80" x2="37.6" y2="425.80" stroke="#747474" stroke-width="0.9"/>
<line x1="35" y1="385.90" x2="37.6" y2="385.90" stroke="#747474" stroke-width="0.9"/>
<line x1="35" y1="346.00" x2="37.6" y2="346.00" stroke="#747474" stroke-width="0.9"/>
<line x1="35" y1="306.10" x2="37.6" y2="306.10" stroke="#747474" stroke-width="0.9"/>
<line x1="35" y1="266.20" x2="37.6" y2="266.20" stroke="#747474" stroke-width="0.9"/>
<line x1="67.15" y1="465.5" x2="67.15" y2="463.3" stroke="#4a4a4a" stroke-width="0.8"/>
<line x1="94.15" y1="465.5" x2="94.15" y2="463.3" stroke="#4a4a4a" stroke-width="0.8"/>
<line x1="121.55" y1="465.5" x2="121.55" y2="463.3" stroke="#4a4a4a" stroke-width="0.8"/>
<line x1="148.45" y1="465.5" x2="148.45" y2="463.3" stroke="#4a4a4a" stroke-width="0.8"/>
<line x1="175.55" y1="465.5" x2="175.55" y2="463.3" stroke="#4a4a4a" stroke-width="0.8"/>
<line x1="202.55" y1="465.5" x2="202.55" y2="463.3" stroke="#4a4a4a" stroke-width="0.8"/>
<line x1="229.75" y1="465.5" x2="229.75" y2="463.3" stroke="#4a4a4a" stroke-width="0.8"/>
<line x1="256.75" y1="465.5" x2="256.75" y2="463.3" stroke="#4a4a4a" stroke-width="0.8"/>
<rect x="362.70" y="323.60" width="19.20" height="141.90" fill="#666666" stroke="#4c4c4c" stroke-width="0.8"/>
<rect x="389.70" y="324.80" width="19.20" height="140.70" fill="#666666" stroke="#4c4c4c" stroke-width="0.8"/>
<rect x="416.70" y="379.80" width="19.20" height="85.70" fill="#74ac30" stroke="#4e7c1e" stroke-width="0.8"/>
<rect x="443.70" y="323.90" width="19.20" height="141.60" fill="#666666" stroke="#4c4c4c" stroke-width="0.8"/>
<rect x="470.80" y="302.10" width="19.20" height="163.40" fill="#666666" stroke="#4c4c4c" stroke-width="0.8"/>
<rect x="498.00" y="288.60" width="19.20" height="176.90" fill="#666666" stroke="#4c4c4c" stroke-width="0.8"/>
<rect x="525.10" y="285.30" width="19.20" height="180.20" fill="#666666" stroke="#4c4c4c" stroke-width="0.8"/>
<rect x="552.20" y="350.30" width="19.20" height="115.20" fill="#666666" stroke="#4c4c4c" stroke-width="0.8"/>
<path d="M339.6 266V465.5H593.8" fill="none" stroke="#747474" stroke-width="1.0"/>
<line x1="339.6" y1="466.00" x2="341.0" y2="466.00" stroke="#747474" stroke-width="0.7"/>
<line x1="339.6" y1="460.46" x2="341.0" y2="460.46" stroke="#747474" stroke-width="0.7"/>
<line x1="339.6" y1="454.92" x2="341.0" y2="454.92" stroke="#747474" stroke-width="0.7"/>
<line x1="339.6" y1="449.37" x2="341.0" y2="449.37" stroke="#747474" stroke-width="0.7"/>
<line x1="339.6" y1="443.83" x2="341.0" y2="443.83" stroke="#747474" stroke-width="0.7"/>
<line x1="339.6" y1="438.29" x2="341.0" y2="438.29" stroke="#747474" stroke-width="0.7"/>
<line x1="339.6" y1="432.75" x2="341.0" y2="432.75" stroke="#747474" stroke-width="0.7"/>
<line x1="339.6" y1="427.20" x2="341.0" y2="427.20" stroke="#747474" stroke-width="0.7"/>
<line x1="339.6" y1="421.66" x2="341.0" y2="421.66" stroke="#747474" stroke-width="0.7"/>
<line x1="339.6" y1="416.12" x2="341.0" y2="416.12" stroke="#747474" stroke-width="0.7"/>
<line x1="339.6" y1="410.57" x2="341.0" y2="410.57" stroke="#747474" stroke-width="0.7"/>
<line x1="339.6" y1="405.03" x2="341.0" y2="405.03" stroke="#747474" stroke-width="0.7"/>
<line x1="339.6" y1="399.49" x2="341.0" y2="399.49" stroke="#747474" stroke-width="0.7"/>
<line x1="339.6" y1="393.95" x2="341.0" y2="393.95" stroke="#747474" stroke-width="0.7"/>
<line x1="339.6" y1="388.40" x2="341.0" y2="388.40" stroke="#747474" stroke-width="0.7"/>
<line x1="339.6" y1="382.86" x2="341.0" y2="382.86" stroke="#747474" stroke-width="0.7"/>
<line x1="339.6" y1="377.32" x2="341.0" y2="377.32" stroke="#747474" stroke-width="0.7"/>
<line x1="339.6" y1="371.78" x2="341.0" y2="371.78" stroke="#747474" stroke-width="0.7"/>
<line x1="339.6" y1="366.24" x2="341.0" y2="366.24" stroke="#747474" stroke-width="0.7"/>
<line x1="339.6" y1="360.69" x2="341.0" y2="360.69" stroke="#747474" stroke-width="0.7"/>
<line x1="339.6" y1="355.15" x2="341.0" y2="355.15" stroke="#747474" stroke-width="0.7"/>
<line x1="339.6" y1="349.61" x2="341.0" y2="349.61" stroke="#747474" stroke-width="0.7"/>
<line x1="339.6" y1="344.06" x2="341.0" y2="344.06" stroke="#747474" stroke-width="0.7"/>
<line x1="339.6" y1="338.52" x2="341.0" y2="338.52" stroke="#747474" stroke-width="0.7"/>
<line x1="339.6" y1="332.98" x2="341.0" y2="332.98" stroke="#747474" stroke-width="0.7"/>
<line x1="339.6" y1="327.44" x2="341.0" y2="327.44" stroke="#747474" stroke-width="0.7"/>
<line x1="339.6" y1="321.89" x2="341.0" y2="321.89" stroke="#747474" stroke-width="0.7"/>
<line x1="339.6" y1="316.35" x2="341.0" y2="316.35" stroke="#747474" stroke-width="0.7"/>
<line x1="339.6" y1="310.81" x2="341.0" y2="310.81" stroke="#747474" stroke-width="0.7"/>
<line x1="339.6" y1="305.27" x2="341.0" y2="305.27" stroke="#747474" stroke-width="0.7"/>
<line x1="339.6" y1="299.73" x2="341.0" y2="299.73" stroke="#747474" stroke-width="0.7"/>
<line x1="339.6" y1="294.18" x2="341.0" y2="294.18" stroke="#747474" stroke-width="0.7"/>
<line x1="339.6" y1="288.64" x2="341.0" y2="288.64" stroke="#747474" stroke-width="0.7"/>
<line x1="339.6" y1="283.10" x2="341.0" y2="283.10" stroke="#747474" stroke-width="0.7"/>
<line x1="339.6" y1="277.55" x2="341.0" y2="277.55" stroke="#747474" stroke-width="0.7"/>
<line x1="339.6" y1="272.01" x2="341.0" y2="272.01" stroke="#747474" stroke-width="0.7"/>
<line x1="339.6" y1="266.47" x2="341.0" y2="266.47" stroke="#747474" stroke-width="0.7"/>
<line x1="339.6" y1="466.00" x2="342.20000000000005" y2="466.00" stroke="#747474" stroke-width="0.9"/>
<line x1="339.6" y1="443.83" x2="342.20000000000005" y2="443.83" stroke="#747474" stroke-width="0.9"/>
<line x1="339.6" y1="421.66" x2="342.20000000000005" y2="421.66" stroke="#747474" stroke-width="0.9"/>
<line x1="339.6" y1="399.49" x2="342.20000000000005" y2="399.49" stroke="#747474" stroke-width="0.9"/>
<line x1="339.6" y1="377.32" x2="342.20000000000005" y2="377.32" stroke="#747474" stroke-width="0.9"/>
<line x1="339.6" y1="355.15" x2="342.20000000000005" y2="355.15" stroke="#747474" stroke-width="0.9"/>
<line x1="339.6" y1="332.98" x2="342.20000000000005" y2="332.98" stroke="#747474" stroke-width="0.9"/>
<line x1="339.6" y1="310.81" x2="342.20000000000005" y2="310.81" stroke="#747474" stroke-width="0.9"/>
<line x1="339.6" y1="288.64" x2="342.20000000000005" y2="288.64" stroke="#747474" stroke-width="0.9"/>
<line x1="339.6" y1="266.47" x2="342.20000000000005" y2="266.47" stroke="#747474" stroke-width="0.9"/>
<line x1="372.15" y1="465.5" x2="372.15" y2="463.3" stroke="#4a4a4a" stroke-width="0.8"/>
<line x1="399.15" y1="465.5" x2="399.15" y2="463.3" stroke="#4a4a4a" stroke-width="0.8"/>
<line x1="426.15" y1="465.5" x2="426.15" y2="463.3" stroke="#4a4a4a" stroke-width="0.8"/>
<line x1="453.15" y1="465.5" x2="453.15" y2="463.3" stroke="#4a4a4a" stroke-width="0.8"/>
<line x1="480.25" y1="465.5" x2="480.25" y2="463.3" stroke="#4a4a4a" stroke-width="0.8"/>
<line x1="507.45" y1="465.5" x2="507.45" y2="463.3" stroke="#4a4a4a" stroke-width="0.8"/>
<line x1="534.55" y1="465.5" x2="534.55" y2="463.3" stroke="#4a4a4a" stroke-width="0.8"/>
<line x1="561.65" y1="465.5" x2="561.65" y2="463.3" stroke="#4a4a4a" stroke-width="0.8"/>
</g>
<g id="labels">
<text x="28.80" y="199.14" font-size="9" text-anchor="end" font-weight="bold" fill="#333333" >0.8</text>
<text x="28.80" y="159.54" font-size="9" text-anchor="end" font-weight="bold" fill="#333333" >0.9</text>
<text x="28.80" y="119.94" font-size="9" text-anchor="end" font-weight="bold" fill="#333333" >1</text>
<text x="28.80" y="80.34" font-size="9" text-anchor="end" font-weight="bold" fill="#333333" >1.1</text>
<text x="28.80" y="40.74" font-size="9" text-anchor="end" font-weight="bold" fill="#333333" >1.2</text>
<text x="76.65" y="227.80" font-size="9" text-anchor="middle" font-weight="bold" fill="#333333" >0.1</text>
<text x="120.80" y="227.80" font-size="9" text-anchor="middle" font-weight="bold" fill="#333333" >0.2</text>
<text x="164.95" y="227.80" font-size="9" text-anchor="middle" font-weight="bold" fill="#333333" >0.3</text>
<text x="209.10" y="227.80" font-size="9" text-anchor="middle" font-weight="bold" fill="#333333" >0.4</text>
<text x="253.25" y="227.80" font-size="9" text-anchor="middle" font-weight="bold" fill="#333333" >0.5</text>
<text x="61.50" y="15.20" font-size="12" text-anchor="middle" font-weight="bold" fill="#333333" >(A)</text>
<text x="143.50" y="241.40" font-size="10" text-anchor="middle" font-weight="bold" fill="#333333" >R750</text>
<text transform="translate(12.20,116.30) rotate(-90)" font-size="10" text-anchor="middle" font-weight="bold" fill="#333333">R950/R750</text>
<text x="73.50" y="194.60" font-size="10" text-anchor="middle" font-weight="bold" fill="#333333" >Rock</text>
<text x="329.60" y="200.74" font-size="9" text-anchor="end" font-weight="bold" fill="#333333" >1.2</text>
<text x="329.60" y="164.74" font-size="9" text-anchor="end" font-weight="bold" fill="#333333" >1.4</text>
<text x="329.60" y="128.74" font-size="9" text-anchor="end" font-weight="bold" fill="#333333" >1.6</text>
<text x="329.60" y="92.74" font-size="9" text-anchor="end" font-weight="bold" fill="#333333" >1.8</text>
<text x="329.60" y="56.74" font-size="9" text-anchor="end" font-weight="bold" fill="#333333" >2</text>
<text x="329.60" y="20.74" font-size="9" text-anchor="end" font-weight="bold" fill="#333333" >2.2</text>
<text x="333.40" y="227.80" font-size="9" text-anchor="middle" font-weight="bold" fill="#333333" >0</text>
<text x="377.56" y="227.80" font-size="9" text-anchor="middle" font-weight="bold" fill="#333333" >0.1</text>
<text x="421.72" y="227.80" font-size="9" text-anchor="middle" font-weight="bold" fill="#333333" >0.2</text>
<text x="465.88" y="227.80" font-size="9" text-anchor="middle" font-weight="bold" fill="#333333" >0.3</text>
<text x="510.04" y="227.80" font-size="9" text-anchor="middle" font-weight="bold" fill="#333333" >0.4</text>
<text x="554.20" y="227.80" font-size="9" text-anchor="middle" font-weight="bold" fill="#333333" >0.5</text>
<text x="363.00" y="15.00" font-size="12" text-anchor="middle" font-weight="bold" fill="#333333" >(B)</text>
<text x="444.60" y="241.40" font-size="10" text-anchor="middle" font-weight="bold" fill="#333333" >R700</text>
<text transform="translate(312.70,116.20) rotate(-90)" font-size="10" text-anchor="middle" font-weight="bold" fill="#333333">R1600/R700</text>
<text x="379.40" y="190.60" font-size="10" text-anchor="middle" font-weight="bold" fill="#333333" >Rock</text>
<text x="223.00" y="172.60" font-size="8.3" text-anchor="start" font-weight="bold" fill="#333333" >LSCC</text>
<text x="223.00" y="183.30" font-size="8.3" text-anchor="start" font-weight="bold" fill="#333333" >CE-3</text>
<text x="223.00" y="194.50" font-size="8.3" text-anchor="start" font-weight="bold" fill="#333333" >CE-4</text>
<text x="223.00" y="205.50" font-size="8.3" text-anchor="start" font-weight="bold" fill="#333333" >CE-5</text>
<text x="523.00" y="33.50" font-size="8.3" text-anchor="start" font-weight="bold" fill="#333333" >LSCC</text>
<text x="523.00" y="44.30" font-size="8.3" text-anchor="start" font-weight="bold" fill="#333333" >CE-3</text>
<text x="523.00" y="55.50" font-size="8.3" text-anchor="start" font-weight="bold" fill="#333333" >CE-4</text>
<text x="523.00" y="66.50" font-size="8.3" text-anchor="start" font-weight="bold" fill="#333333" >CE-5</text>
<text transform="translate(182.3,59.4) rotate(30.6)" font-size="12" text-anchor="middle" fill="#222">increased maturity</text>
<text transform="translate(473.2,80.3) rotate(30.5)" font-size="12" text-anchor="middle" fill="#222">increased maturity</text>
<text x="282.00" y="38.30" font-size="8.3" text-anchor="start" font-weight="bold" fill="#333333" >160</text>
<text x="282.00" y="61.72" font-size="8.3" text-anchor="start" font-weight="bold" fill="#333333" >140</text>
<text x="282.00" y="85.14" font-size="8.3" text-anchor="start" font-weight="bold" fill="#333333" >120</text>
<text x="282.00" y="108.56" font-size="8.3" text-anchor="start" font-weight="bold" fill="#333333" >100</text>
<text x="282.00" y="131.98" font-size="8.3" text-anchor="start" font-weight="bold" fill="#333333" >80</text>
<text x="282.00" y="155.40" font-size="8.3" text-anchor="start" font-weight="bold" fill="#333333" >60</text>
<text x="282.00" y="178.82" font-size="8.3" text-anchor="start" font-weight="bold" fill="#333333" >40</text>
<text x="282.00" y="202.24" font-size="8.3" text-anchor="start" font-weight="bold" fill="#333333" >20</text>
<text x="271.30" y="13.20" font-size="8.2" text-anchor="middle" font-weight="bold" fill="#333333" >Is/FeO</text>
<text x="582.00" y="38.30" font-size="8.3" text-anchor="start" font-weight="bold" fill="#333333" >160</text>
<text x="582.00" y="61.72" font-size="8.3" text-anchor="start" font-weight="bold" fill="#333333" >140</text>
<text x="582.00" y="85.14" font-size="8.3" text-anchor="start" font-weight="bold" fill="#333333" >120</text>
<text x="582.00" y="108.56" font-size="8.3" text-anchor="start" font-weight="bold" fill="#333333" >100</text>
<text x="582.00" y="131.98" font-size="8.3" text-anchor="start" font-weight="bold" fill="#333333" >80</text>
<text x="582.00" y="155.40" font-size="8.3" text-anchor="start" font-weight="bold" fill="#333333" >60</text>
<text x="582.00" y="178.82" font-size="8.3" text-anchor="start" font-weight="bold" fill="#333333" >40</text>
<text x="582.00" y="202.24" font-size="8.3" text-anchor="start" font-weight="bold" fill="#333333" >20</text>
<text x="571.80" y="13.20" font-size="8.2" text-anchor="middle" font-weight="bold" fill="#333333" >Is/FeO</text>
<text x="30.40" y="468.94" font-size="9" text-anchor="end" font-weight="bold" fill="#333333" >0</text>
<text x="30.40" y="429.04" font-size="9" text-anchor="end" font-weight="bold" fill="#333333" >0.1</text>
<text x="30.40" y="389.14" font-size="9" text-anchor="end" font-weight="bold" fill="#333333" >0.2</text>
<text x="30.40" y="349.24" font-size="9" text-anchor="end" font-weight="bold" fill="#333333" >0.3</text>
<text x="30.40" y="309.34" font-size="9" text-anchor="end" font-weight="bold" fill="#333333" >0.4</text>
<text x="30.40" y="269.44" font-size="9" text-anchor="end" font-weight="bold" fill="#333333" >0.5</text>
<text x="67.15" y="478.80" font-size="9" text-anchor="middle" font-weight="bold" fill="#333333" >D9</text>
<text x="94.15" y="478.80" font-size="9" text-anchor="middle" font-weight="bold" fill="#333333" >D10</text>
<text x="121.55" y="478.80" font-size="9" text-anchor="middle" font-weight="bold" fill="#333333" >D11</text>
<text x="148.45" y="478.80" font-size="9" text-anchor="middle" font-weight="bold" fill="#333333" >D12</text>
<text x="175.55" y="478.80" font-size="9" text-anchor="middle" font-weight="bold" fill="#333333" >D14</text>
<text x="202.55" y="478.80" font-size="9" text-anchor="middle" font-weight="bold" fill="#333333" >D15</text>
<text x="229.75" y="478.80" font-size="9" text-anchor="middle" font-weight="bold" fill="#333333" >D16</text>
<text x="256.75" y="478.80" font-size="9" text-anchor="middle" font-weight="bold" fill="#333333" >D17</text>
<text x="64.50" y="263.00" font-size="12" text-anchor="middle" font-weight="bold" fill="#333333" >(C)</text>
<text x="162.00" y="492.30" font-size="10" text-anchor="middle" font-weight="bold" fill="#333333" >Spectral ID</text>
<text transform="translate(13.60,366.00) rotate(-90)" font-size="10" text-anchor="middle" font-weight="bold" fill="#333333">OMAT</text>
<text x="336.40" y="469.24" font-size="9" text-anchor="end" font-weight="bold" fill="#333333" >0</text>
<text x="336.40" y="447.07" font-size="9" text-anchor="end" font-weight="bold" fill="#333333" >0.02</text>
<text x="336.40" y="424.90" font-size="9" text-anchor="end" font-weight="bold" fill="#333333" >0.04</text>
<text x="336.40" y="402.73" font-size="9" text-anchor="end" font-weight="bold" fill="#333333" >0.06</text>
<text x="336.40" y="380.56" font-size="9" text-anchor="end" font-weight="bold" fill="#333333" >0.08</text>
<text x="336.40" y="358.39" font-size="9" text-anchor="end" font-weight="bold" fill="#333333" >0.1</text>
<text x="336.40" y="336.22" font-size="9" text-anchor="end" font-weight="bold" fill="#333333" >0.12</text>
<text x="336.40" y="314.05" font-size="9" text-anchor="end" font-weight="bold" fill="#333333" >0.14</text>
<text x="336.40" y="291.88" font-size="9" text-anchor="end" font-weight="bold" fill="#333333" >0.16</text>
<text x="336.40" y="269.71" font-size="9" text-anchor="end" font-weight="bold" fill="#333333" >0.18</text>
<text x="372.15" y="478.80" font-size="9" text-anchor="middle" font-weight="bold" fill="#333333" >D9</text>
<text x="399.15" y="478.80" font-size="9" text-anchor="middle" font-weight="bold" fill="#333333" >D10</text>
<text x="426.15" y="478.80" font-size="9" text-anchor="middle" font-weight="bold" fill="#333333" >D11</text>
<text x="453.15" y="478.80" font-size="9" text-anchor="middle" font-weight="bold" fill="#333333" >D12</text>
<text x="480.25" y="478.80" font-size="9" text-anchor="middle" font-weight="bold" fill="#333333" >D14</text>
<text x="507.45" y="478.80" font-size="9" text-anchor="middle" font-weight="bold" fill="#333333" >D15</text>
<text x="534.55" y="478.80" font-size="9" text-anchor="middle" font-weight="bold" fill="#333333" >D16</text>
<text x="561.65" y="478.80" font-size="9" text-anchor="middle" font-weight="bold" fill="#333333" >D17</text>
<text x="363.00" y="263.00" font-size="12" text-anchor="middle" font-weight="bold" fill="#333333" >(D)</text>
<text x="466.50" y="492.30" font-size="10" text-anchor="middle" font-weight="bold" fill="#333333" >Spectral ID</text>
<text transform="translate(313.80,366.00) rotate(-90)" font-size="10" text-anchor="middle" font-weight="bold" fill="#333333">SMFe (wt%)</text>
</g>
</svg>
</body></html>
